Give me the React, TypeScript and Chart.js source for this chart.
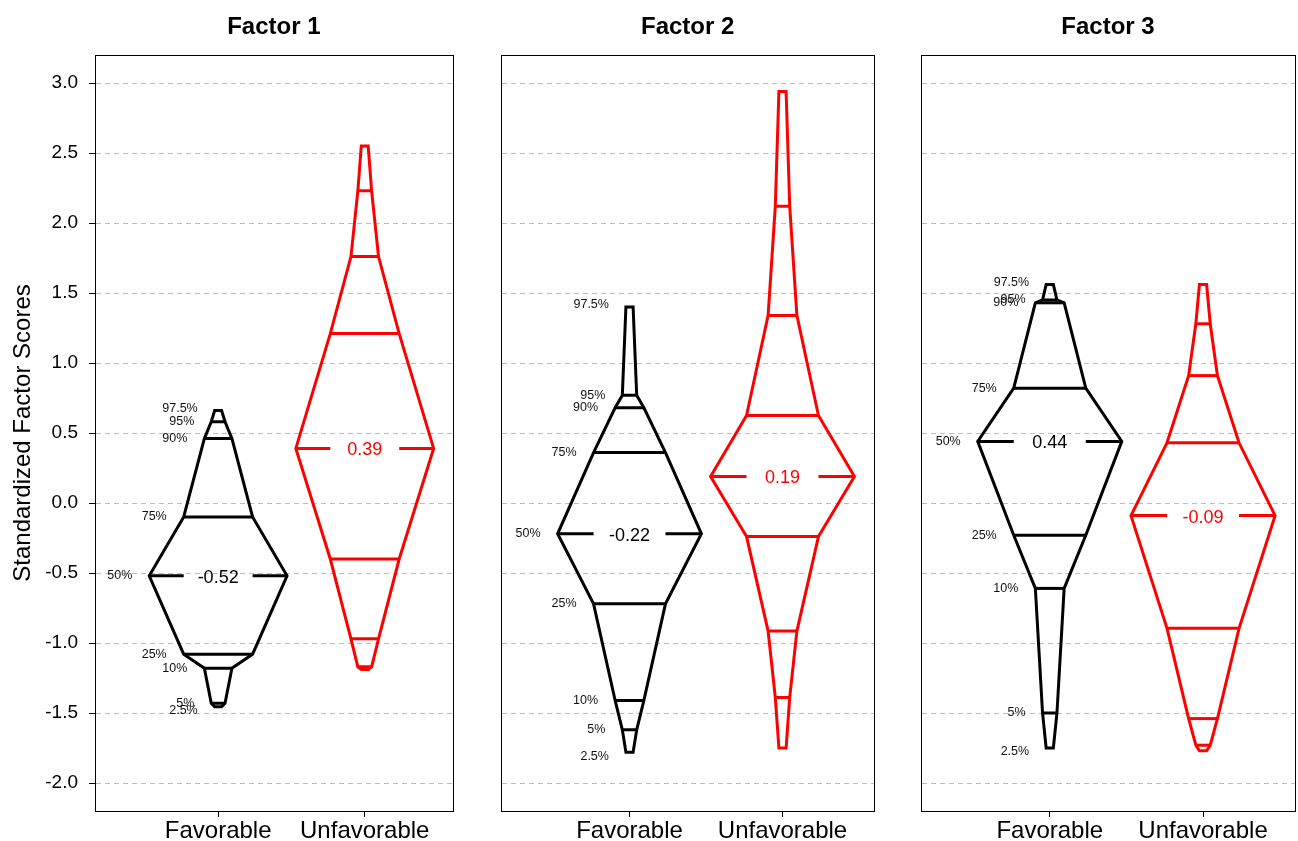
import React, { useEffect, useRef } from 'react';
import { Chart, registerables } from 'chart.js';

Chart.register(...registerables);

const FONT = 'Arial, "Liberation Sans", Helvetica, sans-serif';

// ---------------- data ----------------
const factorTitles = ['Factor 1', 'Factor 2', 'Factor 3'];
const groups = ['Favorable', 'Unfavorable'];
const groupPositions = [1, 2];
const quantileLevels = [0.025, 0.05, 0.1, 0.25, 0.5, 0.75, 0.9, 0.95, 0.975];
const quantileLabels = ['2.5%', '5%', '10%', '25%', '50%', '75%', '90%', '95%', '97.5%'];

const factor1Favorable = [-1.455, -1.43, -1.18, -1.08, -0.52, -0.1, 0.46, 0.58, 0.66];
const factor1Unfavorable = [-1.19, -1.17, -0.97, -0.4, 0.39, 1.21, 1.76, 2.23, 2.55];
const factor2Favorable = [-1.78, -1.62, -1.41, -0.72, -0.22, 0.36, 0.68, 0.77, 1.4];
const factor2Unfavorable = [-1.75, -1.39, -0.915, -0.24, 0.19, 0.625, 1.34, 2.12, 2.94];
const factor3Favorable = [-1.75, -1.5, -0.61, -0.23, 0.44, 0.82, 1.43, 1.45, 1.56];
const factor3Unfavorable = [-1.77, -1.73, -1.54, -0.895, -0.09, 0.43, 0.91, 1.28, 1.56];

const yTicks = [-2.0, -1.5, -1.0, -0.5, 0.0, 0.5, 1.0, 1.5, 2.0, 2.5, 3.0];
const yTickLabels = ['-2.0', '-1.5', '-1.0', '-0.5', '0.0', '0.5', '1.0', '1.5', '2.0', '2.5', '3.0'];
const yAxisTitle = 'Standardized Factor Scores';

const factorSeries = [
  [factor1Favorable, factor1Unfavorable],
  [factor2Favorable, factor2Unfavorable],
  [factor3Favorable, factor3Unfavorable],
];

// ---------------- style / layout ----------------
const groupColors = ['#000000', '#ff0000'];
const CANVAS_H = 841;
const X_MIN = 0.16;
const X_MAX = 2.6;
const Y_MIN = -2.2;
const Y_MAX = 3.2;
const HALF_WIDTH = 0.47;
const LINE_W = 3;
const TOP_MARGIN = 55;

type PanelLayout = { left: number; width: number; padLeft: number; padRight: number; showY: boolean };
const panelLayouts: PanelLayout[] = [
  { left: 0, width: 476, padLeft: 0, padRight: 23.3, showY: true },
  { left: 476, width: 422, padLeft: 25, padRight: 23.7, showY: false },
  { left: 898, width: 400, padLeft: 23, padRight: 3, showY: false },
];

const halfWidthAt = (q: number) => HALF_WIDTH * 2 * Math.min(q, 1 - q);
const MEDIAN_INDEX = quantileLevels.indexOf(0.5);

function buildDatasets(series: number[][]) {
  const datasets: any[] = [];
  series.forEach((values, g) => {
    const c = groupPositions[g];
    const color = groupColors[g];
    const line = (pts: { x: number; y: number }[]) => ({
      data: pts,
      showLine: true,
      borderColor: color,
      backgroundColor: color,
      borderWidth: LINE_W,
      pointRadius: 0,
      pointHoverRadius: 0,
      fill: false,
      tension: 0,
      borderJoinStyle: 'miter',
      borderCapStyle: 'butt',
    });
    const left = values.map((v, i) => ({ x: c - halfWidthAt(quantileLevels[i]), y: v }));
    const right = values.map((v, i) => ({ x: c + halfWidthAt(quantileLevels[i]), y: v })).reverse();
    const start = { x: c, y: values[0] };
    datasets.push(line([start, ...left, ...right, start]));
    values.forEach((v, i) => {
      if (i === 0 || i === values.length - 1 || i === MEDIAN_INDEX) return;
      const h = halfWidthAt(quantileLevels[i]);
      datasets.push(line([{ x: c - h, y: v }, { x: c + h, y: v }]));
    });
    const m = values[MEDIAN_INDEX];
    const hm = halfWidthAt(0.5);
    datasets.push(line([{ x: c - hm, y: m }, { x: c - hm / 2, y: m }]));
    datasets.push(line([{ x: c + hm / 2, y: m }, { x: c + hm, y: m }]));
  });
  return datasets;
}

function makeTextPlugin(series: number[][], title: string) {
  return {
    id: 'quantileText',
    afterDatasetsDraw(chart: any) {
      const { ctx, chartArea } = chart;
      const xs = chart.scales.x;
      const ys = chart.scales.y;
      ctx.save();
      // panel title centred over the plot region
      ctx.fillStyle = '#000';
      ctx.font = `bold 24px ${FONT}`;
      ctx.textAlign = 'center';
      ctx.textBaseline = 'alphabetic';
      ctx.fillText(title, (chartArea.left + chartArea.right) / 2, 34);
      // median values
      series.forEach((values, g) => {
        const med = values[MEDIAN_INDEX];
        ctx.fillStyle = groupColors[g];
        ctx.font = `18px ${FONT}`;
        ctx.textAlign = 'center';
        ctx.textBaseline = 'middle';
        ctx.fillText(med.toFixed(2), xs.getPixelForValue(groupPositions[g]), ys.getPixelForValue(med) + 2);
      });
      // quantile labels beside the favorable shape
      const fav = series[0];
      ctx.fillStyle = '#111111';
      ctx.font = `12.5px ${FONT}`;
      ctx.textAlign = 'right';
      ctx.textBaseline = 'middle';
      fav.forEach((v, i) => {
        const q = quantileLevels[i];
        const px = xs.getPixelForValue(groupPositions[0] - halfWidthAt(q)) - 17;
        let py = ys.getPixelForValue(v);
        if (i === 0) py += 4;
        if (i === fav.length - 1) py -= 2;
        ctx.fillText(quantileLabels[i], px, py);
      });
      ctx.restore();
    },
  };
}

const boxPlugin = {
  id: 'panelBox',
  afterDraw(chart: any) {
    const { ctx, chartArea } = chart;
    ctx.save();
    ctx.strokeStyle = '#000';
    ctx.lineWidth = 1;
    ctx.setLineDash([]);
    ctx.strokeRect(
      Math.round(chartArea.left) + 0.5,
      Math.round(chartArea.top) + 0.5,
      Math.round(chartArea.right) - Math.round(chartArea.left),
      Math.round(chartArea.bottom) - Math.round(chartArea.top)
    );
    ctx.restore();
  },
};

function Panel({ index }: { index: number }) {
  const ref = useRef<HTMLCanvasElement | null>(null);
  const lay = panelLayouts[index];
  const series = factorSeries[index];

  useEffect(() => {
    if (!ref.current) return;
    const chart = new Chart(ref.current, {
      type: 'scatter',
      data: { datasets: buildDatasets(series) },
      options: {
        animation: false,
        responsive: false,
        events: [],
        layout: { padding: { left: lay.padLeft, right: lay.padRight, top: TOP_MARGIN, bottom: 0 } },
        plugins: {
          legend: { display: false },
          tooltip: { enabled: false },
          title: { display: false },
        },
        scales: {
          x: {
            type: 'linear',
            min: X_MIN,
            max: X_MAX,
            afterBuildTicks: (s: any) => {
              s.ticks = groupPositions.map((v) => ({ value: v }));
            },
            afterFit: (s: any) => {
              s.height = 30;
            },
            ticks: {
              autoSkip: false,
              maxRotation: 0,
              padding: 0,
              color: '#000',
              font: { family: FONT, size: 24 },
              callback: (_v: any, i: number) => groups[i],
            },
            grid: { drawOnChartArea: false, drawTicks: true, tickLength: 6, tickColor: '#000', tickWidth: 1 },
            border: { display: true, color: '#000', width: 1 },
          },
          y: {
            type: 'linear',
            min: Y_MIN,
            max: Y_MAX,
            afterBuildTicks: (s: any) => {
              s.ticks = yTicks.map((v) => ({ value: v }));
            },
            afterFit: (s: any) => {
              s.width = lay.showY ? 95 : 0;
            },
            ticks: {
              display: lay.showY,
              padding: 11,
              color: '#000',
              font: { family: FONT, size: 19 },
              callback: (_v: any, i: number) => yTickLabels[i],
            },
            grid: {
              color: '#bdbdbd',
              lineWidth: 1,
              drawTicks: lay.showY,
              tickLength: 6,
              tickColor: '#000',
              tickWidth: 1,
              tickBorderDash: [],
            },
            border: { display: true, color: '#000', width: 1, dash: [5, 4] },
            title: {
              display: lay.showY,
              text: yAxisTitle,
              color: '#000',
              font: { family: FONT, size: 24 },
              padding: { top: 9, bottom: 0 },
            },
          },
        },
      } as any,
      plugins: [makeTextPlugin(series, factorTitles[index]), boxPlugin],
    });
    return () => chart.destroy();
  }, []);

  return (
    <canvas
      ref={ref}
      width={lay.width}
      height={CANVAS_H}
      style={{ position: 'absolute', left: lay.left, top: 0, width: lay.width, height: CANVAS_H }}
    />
  );
}

export default function App() {
  return (
    <div style={{ position: 'absolute', left: 0, top: 0, width: 1298, height: 841, background: '#fff', overflow: 'hidden' }}>
      {panelLayouts.map((_, i) => (
        <Panel key={i} index={i} />
      ))}
    </div>
  );
}
